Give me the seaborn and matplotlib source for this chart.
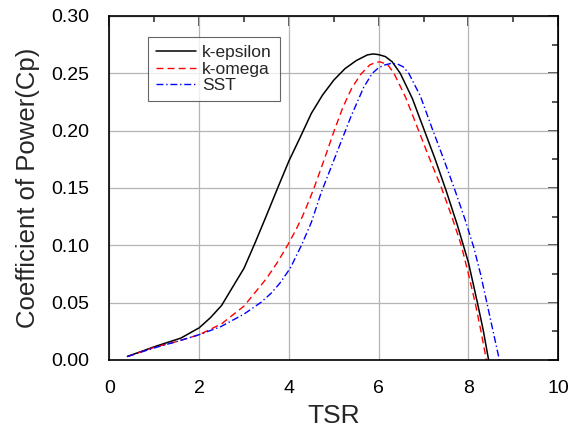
import numpy as np
import pandas as pd
import matplotlib
matplotlib.use("Agg")
import matplotlib.pyplot as plt
import seaborn as sns
from matplotlib.ticker import MultipleLocator, FormatStrFormatter

# values
tsr_keps = [0.4, 1.0, 1.59, 2.0, 2.25, 2.5, 2.75, 3.0, 3.25, 3.5, 3.75, 4.0, 4.25, 4.5,
            4.75, 5.0, 5.25, 5.5, 5.75, 5.88, 6.0, 6.15, 6.3, 6.48, 6.75, 7.0, 7.25, 7.5,
            7.75, 8.0, 8.2, 8.33, 8.45]
cp_keps = [0.003, 0.0115, 0.019, 0.028, 0.0368, 0.0475, 0.0638, 0.080, 0.1025, 0.126,
           0.150, 0.1735, 0.194, 0.215, 0.231, 0.244, 0.254, 0.261, 0.266, 0.2668, 0.2662,
           0.2645, 0.260, 0.250, 0.228, 0.202, 0.176, 0.148, 0.118, 0.085, 0.05, 0.026, 0.0]

tsr_komg = [0.4, 1.0, 1.5, 2.0, 2.5, 3.0, 3.5, 3.75, 3.97, 4.15, 4.3, 4.45, 4.56, 4.78,
            5.01, 5.2, 5.4, 5.6, 5.8, 5.95, 6.04, 6.2, 6.34, 6.6, 6.88, 7.15, 7.4, 7.63,
            7.84, 8.0, 8.15, 8.28, 8.4]
cp_komg = [0.003, 0.011, 0.016, 0.022, 0.0315, 0.047, 0.071, 0.0855, 0.100, 0.113, 0.125,
           0.139, 0.150, 0.174, 0.200, 0.220, 0.237, 0.249, 0.2572, 0.2597, 0.2598, 0.2575,
           0.250, 0.229, 0.201, 0.174, 0.150, 0.125, 0.100, 0.075, 0.050, 0.025, 0.0]

tsr_sst = [0.4, 1.0, 1.5, 2.0, 2.48, 3.0, 3.37, 3.6, 3.8, 4.03, 4.28, 4.5, 4.72, 5.06,
           5.38, 5.67, 5.86, 5.99, 6.12, 6.27, 6.42, 6.55, 6.67, 6.93, 7.19, 7.45, 7.7,
           7.92, 8.12, 8.27, 8.41, 8.55, 8.69]
cp_sst = [0.003, 0.0105, 0.016, 0.022, 0.029, 0.040, 0.050, 0.058, 0.067, 0.080, 0.100,
          0.120, 0.146, 0.180, 0.212, 0.238, 0.250, 0.2545, 0.257, 0.2585, 0.258, 0.2555,
          0.250, 0.230, 0.202, 0.175, 0.148, 0.123, 0.098, 0.075, 0.050, 0.025, 0.0]

sns.set_style("white")
plt.rcParams['font.family'] = ['Liberation Sans', 'DejaVu Sans']

fig = plt.figure(figsize=(5.79, 4.29), dpi=100)
ax = fig.add_axes([0.189, 0.161, 0.775, 0.802])

sns.lineplot(x=tsr_keps, y=cp_keps, ax=ax, color='black', lw=1.1, sort=False,
             label='k-epsilon')
sns.lineplot(x=tsr_komg, y=cp_komg, ax=ax, color='red', lw=1.0, sort=False,
             linestyle=(0, (5, 3)), label='k-omega')
sns.lineplot(x=tsr_sst, y=cp_sst, ax=ax, color='blue', lw=1.0, sort=False,
             linestyle=(0, (5, 2, 1, 2)), label='SST')

ax.set_xlim(0, 10)
ax.set_ylim(0, 0.30)
ax.xaxis.set_major_locator(MultipleLocator(2))
ax.xaxis.set_minor_locator(MultipleLocator(1))
ax.yaxis.set_major_locator(MultipleLocator(0.05))
ax.yaxis.set_minor_locator(MultipleLocator(0.025))
ax.yaxis.set_major_formatter(FormatStrFormatter('%.2f'))
ax.grid(True, which='major', color='#b4b4b4', lw=0.9)
ax.set_axisbelow(True)

for s in ax.spines.values():
    s.set_linewidth(1.2)
    s.set_color('black')

ax.tick_params(which='both', direction='out', colors='black', labelsize=14,
               width=1.1, top=False, right=False, pad=6)
ax.tick_params(which='major', length=8.5)
ax.tick_params(which='minor', length=5)

top = ax.secondary_xaxis('top')
top.xaxis.set_major_locator(MultipleLocator(2))
top.xaxis.set_minor_locator(MultipleLocator(1))
top.tick_params(which='both', direction='in', labeltop=False, width=1.1)
top.tick_params(which='major', length=7.5)
top.tick_params(which='minor', length=4.5)
right = ax.secondary_yaxis('right')
right.yaxis.set_major_locator(MultipleLocator(0.05))
right.yaxis.set_minor_locator(MultipleLocator(0.025))
right.tick_params(which='both', direction='in', labelright=False, width=1.1)
right.tick_params(which='major', length=7.5)
right.tick_params(which='minor', length=4.5)

ax.set_xlabel('TSR', fontsize=19, labelpad=5)
ax.set_ylabel('Coefficient of Power(Cp)', fontsize=18.5, labelpad=8)

leg = ax.legend(loc='upper left', bbox_to_anchor=(0.087, 0.938), borderaxespad=0,
                fontsize=12.5, frameon=True, fancybox=False, edgecolor='#404040',
                handlelength=2.3, handletextpad=0.35, labelspacing=0.08,
                borderpad=0.45)
leg.get_frame().set_linewidth(0.8)

fig.savefig('out.png', dpi=100)
